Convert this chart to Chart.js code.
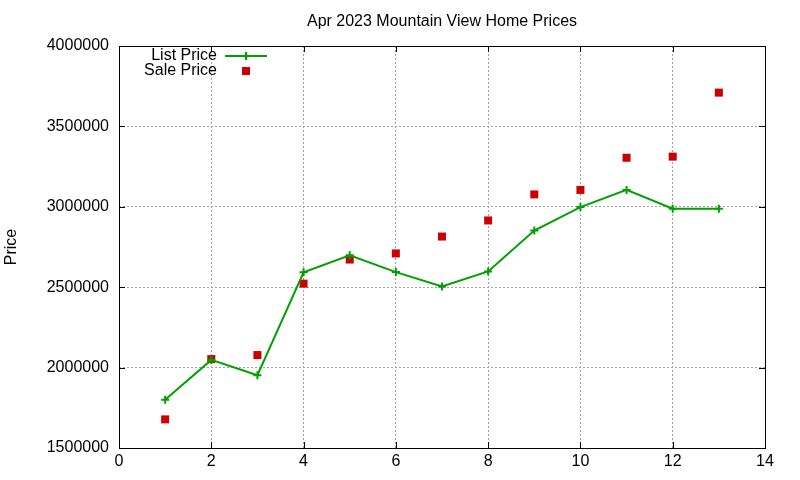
<!DOCTYPE html>
<html>
<head>
<meta charset="utf-8">
<script src="https://cdn.jsdelivr.net/npm/chart.js@4.4.0/dist/chart.umd.min.js"></script>
<style>
  html, body { margin: 0; padding: 0; background: #fff; }
  #wrap { width: 800px; height: 480px; }
</style>
</head>
<body>
<div id="wrap"><canvas id="grafico"></canvas></div>
<script>
const months = [1, 2, 3, 4, 5, 6, 7, 8, 9, 10, 11, 12, 13];
const listPrice = [1800000, 2048000, 1953000, 2593000, 2698000, 2594000, 2504000, 2598000, 2852000, 2998000, 3105000, 2988000, 2988000];
const salePrice = [1678000, 2053000, 2078000, 2522000, 2672000, 2710000, 2815000, 2915000, 3077000, 3105000, 3305000, 3312000, 3710000];
const xTicks = [0, 2, 4, 6, 8, 10, 12, 14];
const yTicks = [1500000, 2000000, 2500000, 3000000, 3500000, 4000000];

const green = '#00a000';
const red = '#cc0000';
const fonte = 'Liberation Sans, Arial, sans-serif';
const tam = 16;

const pontos = (ys) => months.map((m, i) => ({ x: m, y: ys[i] }));

// moldura e marcas de escala para dentro, como no gnuplot
const moldura = {
    id: 'moldura',
    afterDraw(chart) {
        const { ctx, chartArea: a, scales } = chart;
        ctx.save();
        ctx.strokeStyle = '#000';
        ctx.lineWidth = 1;
        ctx.beginPath();
        xTicks.forEach(v => {
            const px = Math.round(scales.x.getPixelForValue(v)) + 0.5;
            ctx.moveTo(px, a.bottom); ctx.lineTo(px, a.bottom - 6);
            ctx.moveTo(px, a.top); ctx.lineTo(px, a.top + 6);
        });
        yTicks.forEach(v => {
            const py = Math.round(scales.y.getPixelForValue(v)) + 0.5;
            ctx.moveTo(a.left, py); ctx.lineTo(a.left + 6, py);
            ctx.moveTo(a.right, py); ctx.lineTo(a.right - 6, py);
        });
        ctx.stroke();
        ctx.strokeRect(Math.round(a.left) + 0.5, Math.round(a.top) + 0.5,
            Math.round(a.right - a.left), Math.round(a.bottom - a.top));
        ctx.restore();
    }
};

// legenda dentro da area do grafico
const legenda = {
    id: 'legenda',
    afterDraw(chart) {
        const { ctx, chartArea: a } = chart;
        const textoX = a.left + 98;
        const amostraX = a.left + 106;
        const amostraW = 42;
        const y1 = a.top + 10;
        const y2 = a.top + 25;
        ctx.save();
        ctx.font = tam + 'px ' + fonte;
        ctx.fillStyle = '#000';
        ctx.textAlign = 'right';
        ctx.textBaseline = 'middle';
        ctx.fillText('List Price', textoX, y1);
        ctx.fillText('Sale Price', textoX, y2);
        const cx = amostraX + amostraW / 2;
        ctx.strokeStyle = green;
        ctx.lineWidth = 2;
        ctx.beginPath();
        ctx.moveTo(amostraX, y1); ctx.lineTo(amostraX + amostraW, y1);
        ctx.moveTo(cx, y1 - 4); ctx.lineTo(cx, y1 + 4);
        ctx.stroke();
        ctx.fillStyle = red;
        ctx.fillRect(cx - 4, y2 - 4, 8, 8);
        ctx.restore();
    }
};

const ctx = document.getElementById('grafico').getContext('2d');
const chart = new Chart(ctx, {
    type: 'scatter',
    data: {
        datasets: [{
            label: 'List Price',
            data: pontos(listPrice),
            showLine: true,
            borderColor: green,
            backgroundColor: green,
            borderWidth: 2,
            pointStyle: 'cross',
            pointRadius: 4,
            pointBorderWidth: 2,
            tension: 0
        }, {
            label: 'Sale Price',
            data: pontos(salePrice),
            showLine: false,
            borderColor: red,
            backgroundColor: red,
            pointStyle: 'rect',
            pointRadius: 5.66,
            pointBorderWidth: 0
        }]
    },
    options: {
        responsive: true,
        maintainAspectRatio: false,
        animation: false,
        layout: { padding: { left: 0, right: 35, top: 0, bottom: 0 } },
        plugins: {
            legend: { display: false },
            tooltip: { enabled: false },
            title: {
                display: true,
                fullSize: false,
                text: 'Apr 2023 Mountain View Home Prices',
                color: '#000',
                font: { family: fonte, size: tam, weight: 'normal' },
                padding: { top: 12, bottom: 14.8 }
            }
        },
        scales: {
            x: {
                type: 'linear',
                min: 0,
                max: 14,
                afterFit: (scale) => { scale.height = 32; },
                afterBuildTicks: (scale) => { scale.ticks = xTicks.map(v => ({ value: v })); },
                ticks: {
                    color: '#000',
                    font: { family: fonte, size: tam },
                    padding: 4,
                    maxRotation: 0
                },
                grid: { color: '#a0a0a0', lineWidth: 1, drawTicks: false },
                border: { display: false, dash: [2, 2] }
            },
            y: {
                type: 'linear',
                min: 1500000,
                max: 4000000,
                afterFit: (scale) => { scale.width = 119; },
                afterBuildTicks: (scale) => { scale.ticks = yTicks.map(v => ({ value: v })); },
                ticks: {
                    color: '#000',
                    font: { family: fonte, size: tam },
                    padding: 10,
                    callback: (v) => String(v)
                },
                grid: { color: '#a0a0a0', lineWidth: 1, drawTicks: false },
                border: { display: false, dash: [2, 2] },
                title: {
                    display: true,
                    text: 'Price',
                    color: '#000',
                    font: { family: fonte, size: tam },
                    padding: { top: 2, bottom: 0 }
                }
            }
        }
    },
    plugins: [moldura, legenda]
});
</script>
</body>
</html>
